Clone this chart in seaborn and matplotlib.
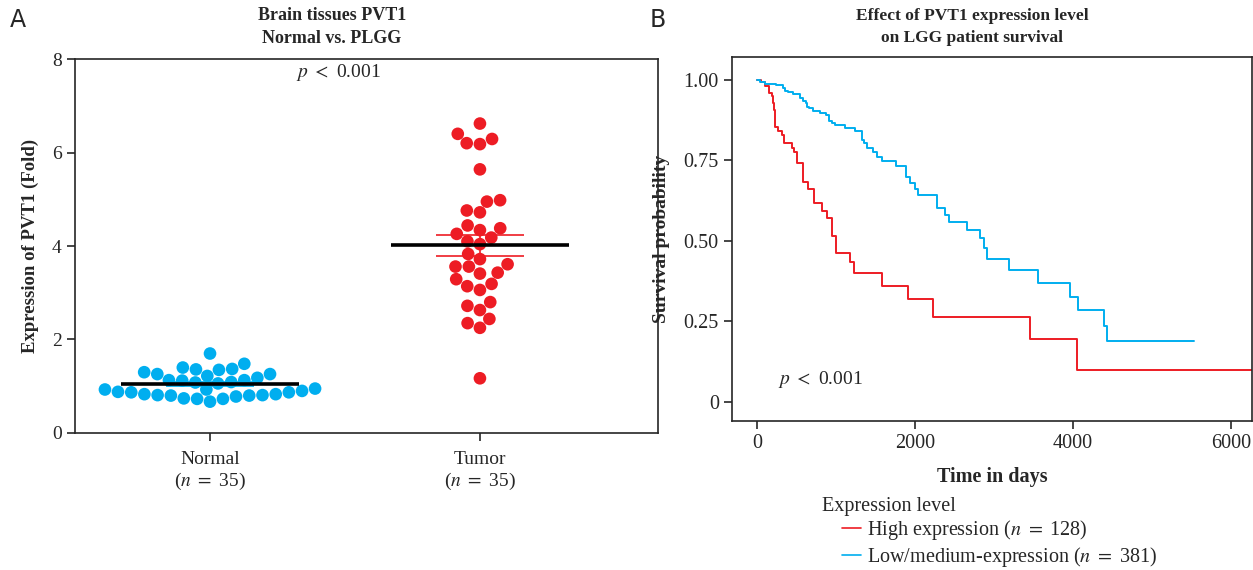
import numpy as np
import pandas as pd
import matplotlib
matplotlib.use("Agg")
from matplotlib import pyplot as plt
from matplotlib.lines import Line2D
import seaborn as sns

# ---- panel A data : PVT1 expression (fold) ----
normal_vals = [1.37, 1.35, 1.26, 1.22, 1.13, 1.12, 1.08, 1.06, 1.09, 1.13, 1.18, 1.26,
               1.30, 1.36, 1.40, 1.48, 1.70,
               0.90, 0.87, 0.83, 0.80, 0.81, 0.78, 0.73, 0.67, 0.73, 0.74, 0.80, 0.81,
               0.83, 0.87, 0.88, 0.93, 0.95, 0.93]
tumor_vals = [6.62, 6.40, 6.20, 6.18, 6.29, 5.64, 4.98, 4.95, 4.76, 4.72, 4.38, 4.44,
              4.34, 4.26, 4.18, 4.10, 4.04, 3.83, 3.72, 3.61, 3.56, 3.56, 3.43, 3.41,
              3.29, 3.14, 3.06, 3.19, 2.80, 2.63, 2.72, 2.35, 2.44, 2.25, 1.17]
groups = ["Normal", "Tumor"]
group_labels = ["Normal\n($n$ $=$ 35)", "Tumor\n($n$ $=$ 35)"]

# ---- panel B data : Kaplan-Meier steps ----
high_t = [0, 47, 101, 156, 186, 206, 219, 228, 270, 313, 346, 439, 468, 503, 586,
          649, 722, 819, 882, 946, 1000, 1177, 1228, 1578, 1908, 2224, 3456, 4054, 6300]
high_s = [1.0, 0.992, 0.98, 0.958, 0.95, 0.928, 0.907, 0.855, 0.842, 0.829, 0.803,
          0.79, 0.775, 0.741, 0.684, 0.661, 0.619, 0.594, 0.57, 0.516, 0.462, 0.435,
          0.401, 0.361, 0.319, 0.265, 0.197, 0.099, 0.099]
low_t = [0, 38, 101, 241, 325, 354, 389, 459, 544, 586, 620, 629, 658, 713, 797, 873,
         915, 946, 987, 1114, 1241, 1325, 1354, 1389, 1472, 1515, 1578, 1759, 1882,
         1937, 2000, 2042, 2282, 2380, 2430, 2654, 2823, 2873, 2908, 3190, 3553, 3962,
         4067, 4396, 4426, 5532]
low_s = [1.0, 0.992, 0.988, 0.983, 0.974, 0.966, 0.962, 0.957, 0.943, 0.933, 0.928,
         0.917, 0.912, 0.904, 0.896, 0.891, 0.873, 0.865, 0.86, 0.85, 0.842, 0.814,
         0.803, 0.79, 0.775, 0.762, 0.749, 0.733, 0.698, 0.681, 0.661, 0.643, 0.603,
         0.582, 0.56, 0.534, 0.508, 0.477, 0.444, 0.41, 0.369, 0.327, 0.285, 0.237,
         0.19, 0.19]
km_labels = ["High expression ($n$ $=$ 128)", "Low/medium-expression ($n$ $=$ 381)"]

RED = "#ED1C24"
BLUE = "#00AEEF"

sns.set_style("ticks")
plt.rcParams['font.family'] = ['Liberation Serif', 'DejaVu Serif']
plt.rcParams['mathtext.fontset'] = 'stix'
plt.rcParams['axes.linewidth'] = 1.2

fig = plt.figure(figsize=(12.53, 5.70), dpi=100)
axA = fig.add_axes([0.0599, 0.2404, 0.4653, 0.656])
axB = fig.add_axes([0.5842, 0.2614, 0.415, 0.6386])

# ---------------- panel A ----------------
dfA = pd.DataFrame({"group": ["Normal"] * len(normal_vals) + ["Tumor"] * len(tumor_vals),
                    "value": normal_vals + tumor_vals})
sns.swarmplot(data=dfA, x="group", y="value", hue="group", order=groups,
              palette={"Normal": BLUE, "Tumor": RED}, size=9.1, legend=False,
              ax=axA, zorder=2)
for i, vals in enumerate([normal_vals, tumor_vals]):
    m = np.mean(vals)
    se = np.std(vals, ddof=1) / np.sqrt(len(vals))
    col = BLUE if i == 0 else RED
    axA.errorbar(i, m, yerr=se, color=col, capsize=32, lw=1.2, capthick=1.2, zorder=3)
    axA.hlines(m, i - 0.33, i + 0.33, color="black", lw=2.6, zorder=4)
axA.set_xlim(-0.5, 1.66)
axA.set_ylim(0, 8)
axA.set_yticks([0, 2, 4, 6, 8])
axA.set_xticks([0, 1])
axA.set_xticklabels(group_labels)
axA.set_xlabel("")
axA.set_ylabel("Expression of PVT1 (Fold)", fontsize=13.5, fontweight="bold", labelpad=9)
axA.tick_params(labelsize=14, length=6, width=1.2, direction="out")
axA.tick_params(axis="x", pad=7)
for sp in axA.spines.values():
    sp.set_visible(True)
    sp.set_linewidth(1.2)
axA.text(0.451, 0.965, "$p$ $<$ 0.001", transform=axA.transAxes, ha="center", va="center",
         fontsize=14)

# ---------------- panel B ----------------
dfB = pd.concat([
    pd.DataFrame({"time": high_t, "surv": high_s, "grp": km_labels[0]}),
    pd.DataFrame({"time": low_t, "surv": low_s, "grp": km_labels[1]}),
])
sns.lineplot(data=dfB, x="time", y="surv", hue="grp", estimator=None, sort=False,
             palette={km_labels[0]: RED, km_labels[1]: BLUE}, drawstyle="steps-post",
             lw=1.4, legend=False, ax=axB)
axB.set_xlim(-316, 6266)
axB.set_ylim(-0.059, 1.071)
axB.set_xticks([0, 2000, 4000, 6000])
axB.set_yticks([0, 0.25, 0.5, 0.75, 1.0])
axB.set_yticklabels(["0", "0.25", "0.50", "0.75", "1.00"])
axB.set_xlabel("Time in days", fontsize=14.5, fontweight="bold", labelpad=10)
axB.set_ylabel("Survival probability", fontsize=14, fontweight="bold", labelpad=10)
axB.tick_params(labelsize=14.5, length=6, width=1.2, direction="out")
for sp in axB.spines.values():
    sp.set_visible(True)
    sp.set_linewidth(1.2)
axB.text(797, 0.071, "$p$ $<$ 0.001", ha="center", va="center", fontsize=14)

# titles and panel letters
fig.text(332 / 1253, 1 - 27 / 570, "Brain tissues PVT1\nNormal vs. PLGG", ha="center",
         va="center", fontsize=13, fontweight="bold", linespacing=1.5)
fig.text(972 / 1253, 1 - 27 / 570, "Effect of PVT1 expression level\non LGG patient survival",
         ha="center", va="center", fontsize=12.5, fontweight="bold", linespacing=1.55)
fig.text(10 / 1253, 1 - 20 / 570, "A", fontsize=17, family="DejaVu Sans", va="center")
fig.text(650 / 1253, 1 - 20 / 570, "B", fontsize=17, family="DejaVu Sans", va="center")

# legend
fig.text(822 / 1253, 1 - 507 / 570, "Expression level", fontsize=14.5, va="center")
handles = [Line2D([], [], color=RED, lw=1.2), Line2D([], [], color=BLUE, lw=1.2)]
fig.legend(handles, km_labels, loc="upper left", bbox_to_anchor=(842 / 1253, 1 - 518 / 570),
           frameon=False, fontsize=14.5, handlelength=0.95, handletextpad=0.3,
           labelspacing=0.15, borderaxespad=0, borderpad=0)

fig.savefig("out.png", dpi=100)
